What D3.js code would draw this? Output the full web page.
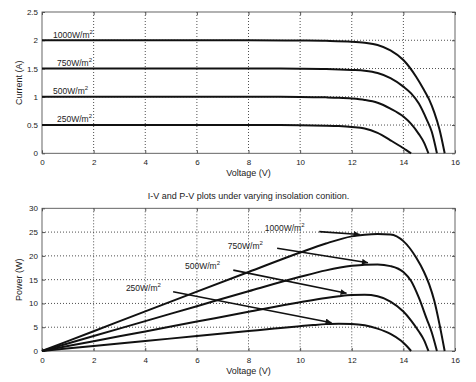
<!DOCTYPE html>
<html>
<head>
<meta charset="utf-8">
<script src="https://cdn.jsdelivr.net/npm/d3@7"></script>
<style>
  html, body { margin: 0; padding: 0; background: #fff; }
  svg { display: block; }
  text { font-family: "Liberation Sans", Arial, Helvetica, sans-serif; fill: #222; }
</style>
</head>
<body>
<svg id="chart" width="476" height="382"></svg>
<script>
// ---------- DATA ----------
const xTicks = [0, 2, 4, 6, 8, 10, 12, 14, 16];
const currentTicks = [0, 0.5, 1, 1.5, 2, 2.5];
const powerTicks = [0, 5, 10, 15, 20, 25, 30];
const seriesNames = ["1000W/m", "750W/m", "500W/m", "250W/m"];

const voltage1000 = [0, 2, 4, 6, 8, 10, 11, 12, 12.5, 13, 13.5, 14, 14.5, 14.8, 15, 15.2, 15.4, 15.6];
const current1000 = [2, 2, 2, 2, 2, 1.995, 1.99, 1.975, 1.955, 1.915, 1.82, 1.65, 1.35, 1.12, 0.95, 0.72, 0.42, 0];
const power1000   = [0, 4.16, 8.32, 12.48, 16.6, 20.7, 22.6, 24.1, 24.45, 24.6, 24.5, 23.1, 19.6, 16.6, 14.0, 10.5, 5.6, 0];

const voltage750 = [0, 2, 4, 6, 8, 10, 11, 12, 12.5, 13, 13.5, 14, 14.3, 14.6, 14.9, 15.1, 15.3];
const current750 = [1.5, 1.5, 1.5, 1.5, 1.5, 1.497, 1.492, 1.475, 1.46, 1.42, 1.33, 1.18, 1.06, 0.88, 0.6, 0.38, 0];
const power750   = [0, 3.14, 6.28, 9.42, 12.56, 15.6, 16.95, 17.9, 18.15, 18.2, 17.85, 16.6, 14.7, 11.2, 6.8, 3.9, 0];

const voltage500 = [0, 2, 4, 6, 8, 10, 11, 11.5, 12, 12.5, 13, 13.5, 14, 14.3, 14.6, 14.8, 14.97];
const current500 = [1, 1, 1, 1, 1, 0.997, 0.99, 0.983, 0.97, 0.945, 0.895, 0.79, 0.65, 0.52, 0.34, 0.19, 0];
const power500   = [0, 2.06, 4.12, 6.18, 8.24, 10.25, 11.15, 11.5, 11.75, 11.8, 11.5, 10.4, 8.3, 6.4, 4.1, 2.3, 0];

const voltage250 = [0, 2, 4, 6, 8, 9, 10, 10.5, 11, 11.5, 12, 12.5, 13, 13.5, 13.9, 14.1, 14.3];
const current250 = [0.5, 0.5, 0.5, 0.5, 0.5, 0.499, 0.497, 0.494, 0.489, 0.481, 0.466, 0.44, 0.36, 0.23, 0.12, 0.06, 0];
const power250   = [0, 1.05, 2.1, 3.15, 4.2, 4.72, 5.22, 5.45, 5.65, 5.75, 5.7, 5.4, 4.7, 3.6, 2.2, 1.2, 0];

// label anchor points in data units [V, value]
const ivLabelPos = [[0.43, 2.04], [0.58, 1.54], [0.43, 1.055], [0.58, 0.558]];
const pvLabelPos = [[8.63, 25.2], [7.2, 21.4], [5.54, 17.2], [3.25, 12.6]];
const arrowTail = [[10.74, 25.1], [9.11, 21.6], [7.41, 17.0], [5.08, 12.47]];
const arrowHead = [[12.31, 24.5], [12.63, 18.56], [11.8, 12.13], [11.22, 5.95]];

const titleText = "I-V and P-V plots under varying insolation conition.";

// ---------- DRAW ----------
const svg = d3.select("#chart");
const defs = svg.append("defs");
defs.append("marker")
  .attr("id", "arrow").attr("viewBox", "0 0 10 10")
  .attr("refX", 10).attr("refY", 5)
  .attr("markerWidth", 11).attr("markerHeight", 6)
  .attr("markerUnits", "userSpaceOnUse")
  .attr("orient", "auto")
  .append("path").attr("d", "M0,0 L10,5 L0,10 Z").attr("fill", "#111");

const left = 42, right = 455;
const x = d3.scaleLinear().domain([0, 16]).range([left, right]);

const ivSeries = [
  { v: voltage1000, y: current1000 },
  { v: voltage750, y: current750 },
  { v: voltage500, y: current500 },
  { v: voltage250, y: current250 }
];
const pvSeries = [
  { v: voltage1000, y: power1000 },
  { v: voltage750, y: power750 },
  { v: voltage500, y: power500 },
  { v: voltage250, y: power250 }
];

function panel(top, bottom, yMax, yTicks, yLabel, series, tickFmt) {
  const y = d3.scaleLinear().domain([0, yMax]).range([bottom, top]);
  const g = svg.append("g");

  // grid
  g.append("g").selectAll("line.vg").data(xTicks.slice(1, -1)).join("line")
    .attr("x1", d => x(d)).attr("x2", d => x(d)).attr("y1", top).attr("y2", bottom)
    .attr("stroke", "#222").attr("stroke-width", 0.8).attr("stroke-dasharray", "1,2");
  g.append("g").selectAll("line.hg").data(yTicks.slice(1, -1)).join("line")
    .attr("x1", left).attr("x2", right).attr("y1", d => y(d)).attr("y2", d => y(d))
    .attr("stroke", "#222").attr("stroke-width", 0.8).attr("stroke-dasharray", "1,2");

  // axes via d3 axis
  const xAxis = d3.axisBottom(x).tickValues(xTicks).tickSize(-3).tickPadding(6);
  const yAxis = d3.axisLeft(y).tickValues(yTicks).tickSize(-3).tickPadding(4).tickFormat(tickFmt);
  const xa = g.append("g").attr("transform", `translate(0,${bottom})`).call(xAxis);
  const ya = g.append("g").attr("transform", `translate(${left},0)`).call(yAxis);
  [xa, ya].forEach(a => {
    a.select(".domain").remove();
    a.selectAll(".tick line").attr("stroke", "#555");
    a.selectAll(".tick text").attr("font-size", 8).attr("fill", "#222")
      .attr("font-family", "Liberation Sans, Arial, sans-serif");
  });
  // top/right ticks
  const xt = g.append("g").attr("transform", `translate(0,${top})`).call(d3.axisTop(x).tickValues(xTicks).tickSize(-3).tickFormat(""));
  const yr = g.append("g").attr("transform", `translate(${right},0)`).call(d3.axisRight(y).tickValues(yTicks).tickSize(-3).tickFormat(""));
  [xt, yr].forEach(a => { a.select(".domain").remove(); a.selectAll(".tick line").attr("stroke", "#555"); });

  // box
  g.append("rect").attr("x", left).attr("y", top).attr("width", right - left).attr("height", bottom - top)
    .attr("fill", "none").attr("stroke", "#555").attr("stroke-width", 0.9);

  // curves
  const line = d3.line().x(d => x(d[0])).y(d => y(d[1])).curve(d3.curveMonotoneX);
  series.forEach(s => {
    g.append("path").attr("d", line(s.v.map((v, i) => [v, s.y[i]])))
      .attr("fill", "none").attr("stroke", "#111").attr("stroke-width", 2);
  });

  // labels
  g.append("text").attr("x", (left + right) / 2).attr("y", bottom + 23)
    .attr("text-anchor", "middle").attr("font-size", 9).text("Voltage (V)");
  g.append("text").attr("transform", `translate(22,${(top + bottom) / 2}) rotate(-90)`)
    .attr("text-anchor", "middle").attr("font-size", 9).text(yLabel);
  return y;
}

function addLabel(y, pos, name) {
  const t = svg.append("text").attr("x", x(pos[0])).attr("y", y(pos[1])).attr("font-size", 8.5);
  t.append("tspan").text(name);
  t.append("tspan").attr("dy", -4).attr("font-size", 6).text("2");
}

const yI = panel(12, 153.3, 2.5, currentTicks, "Current (A)", ivSeries, d3.format("~g"));
seriesNames.forEach((n, i) => addLabel(yI, ivLabelPos[i], n));

svg.append("text").attr("x", (left + right) / 2).attr("y", 199).attr("text-anchor", "middle")
  .attr("font-size", 9).attr("fill", "#333").text(titleText);

const yP = panel(208.3, 351, 30, powerTicks, "Power (W)", pvSeries, d3.format("~g"));
seriesNames.forEach((n, i) => {
  addLabel(yP, pvLabelPos[i], n);
  svg.append("line")
    .attr("x1", x(arrowTail[i][0])).attr("y1", yP(arrowTail[i][1]))
    .attr("x2", x(arrowHead[i][0])).attr("y2", yP(arrowHead[i][1]))
    .attr("stroke", "#111").attr("stroke-width", 1.6).attr("marker-end", "url(#arrow)");
});
</script>
</body>
</html>
